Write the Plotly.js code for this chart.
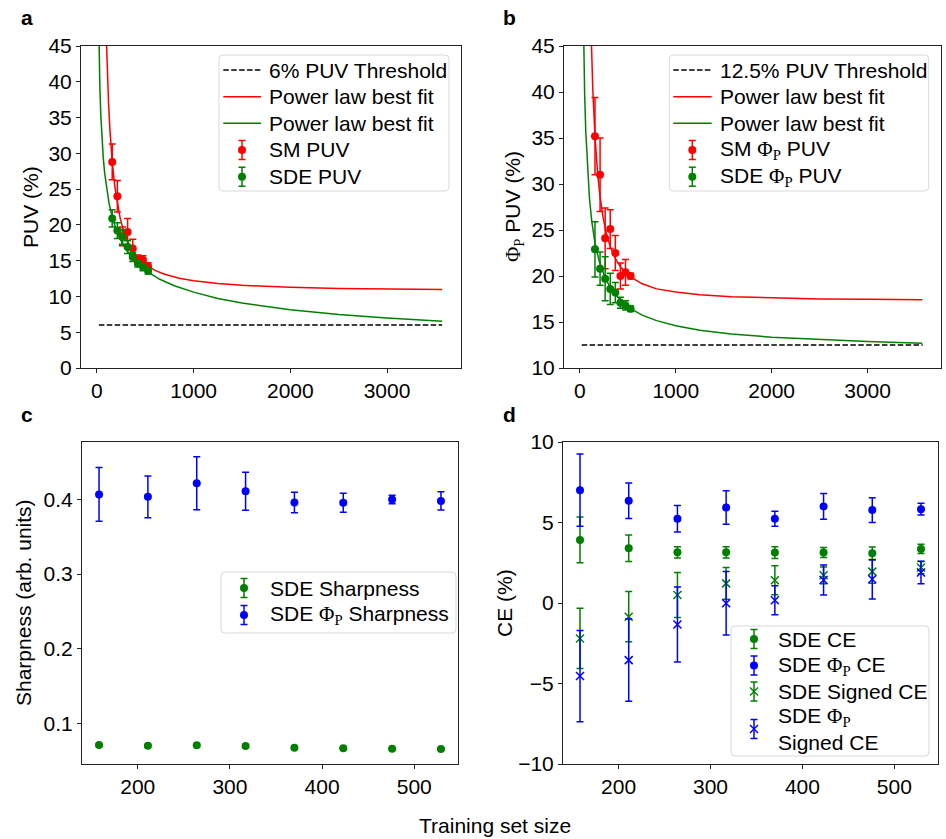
<!DOCTYPE html>
<html>
<head>
<meta charset="utf-8">
<script src="https://cdn.plot.ly/plotly-3.0.1.min.js"></script>
<style>html,body{margin:0;padding:0;background:#fff;}#chart{width:946px;height:839px;}</style>
</head>
<body>
<div id="chart"></div>
<script>
// ---- data ----
const trainSize = [158, 211, 264, 317, 370, 423, 476, 529];

// panel a
const smPUV = [28.8, 24.0, 18.4, 19.0, 16.7, 15.2, 15.1, 14.2];
const smPUVErr = [2.5, 2.2, 1.3, 1.9, 1.3, 0.6, 0.6, 0.5];
const sdePUV = [20.9, 19.2, 18.3, 16.9, 15.5, 14.6, 14.1, 13.55];
const sdePUVErr = [1.2, 1.1, 1.0, 0.9, 0.6, 0.5, 0.5, 0.4];
const fitXa_sm = [95, 100, 110, 120, 135, 158, 185, 211, 240, 275, 317, 370, 423, 476, 529, 600, 700, 850, 1000, 1250, 1500, 2000, 2500, 3000, 3570];
const fitYa_sm = [46.9, 44.4, 40.3, 37.0, 33.1, 28.8, 25.3, 22.9, 20.95, 19.2, 17.7, 16.4, 15.45, 14.7, 14.2, 13.65, 13.1, 12.55, 12.2, 11.8, 11.55, 11.27, 11.12, 11.03, 10.96];
const fitXa_sde = [15, 18, 20, 25, 30, 40, 50, 65, 80, 100, 125, 158, 200, 260, 330, 420, 529, 650, 800, 1000, 1250, 1500, 2000, 2500, 3000, 3570];
const fitYa_sde = [51.0, 47.6, 45.8, 42.1, 39.3, 35.3, 32.5, 29.4, 27.2, 25.0, 23.0, 21.1, 19.3, 17.5, 16.0, 14.6, 13.4, 12.4, 11.5, 10.6, 9.7, 9.07, 8.14, 7.49, 7.0, 6.55];
const threshXa = [20, 3570];
const threshYa = [6, 6];

// panel b
const smPhi = [35.2, 31.0, 24.1, 25.1, 22.5, 20.0, 20.4, 20.0];
const smPhiErr = [4.2, 4.0, 3.3, 2.1, 1.9, 1.4, 1.4, 0.3];
const sdePhi = [22.9, 20.8, 19.7, 18.6, 18.2, 17.1, 16.8, 16.45];
const sdePhiErr = [3.0, 1.8, 2.4, 1.7, 1.1, 0.6, 0.5, 0.3];
const fitXb_sm = [110, 120, 135, 158, 185, 211, 240, 275, 317, 370, 423, 476, 529, 650, 800, 1000, 1250, 1580, 2000, 2500, 3000, 3570];
const fitYb_sm = [49.3, 45.1, 40.3, 35.2, 31.2, 28.6, 26.5, 24.7, 23.2, 21.9, 21.0, 20.4, 19.9, 19.15, 18.6, 18.25, 17.95, 17.75, 17.6, 17.5, 17.46, 17.42];
const fitXb_sde = [30, 35, 40, 50, 62, 80, 100, 125, 158, 200, 260, 330, 420, 529, 650, 800, 1000, 1250, 1580, 2000, 2500, 3000, 3570];
const fitYb_sde = [52.9, 48.4, 45.0, 39.9, 35.7, 31.5, 28.5, 25.9, 23.6, 21.7, 19.9, 18.5, 17.4, 16.45, 15.75, 15.15, 14.6, 14.1, 13.7, 13.35, 13.07, 12.87, 12.7];
const threshXb = [20, 3575];
const threshYb = [12.5, 12.5];

// panel c
const sharpSDE = [0.0709, 0.0700, 0.0705, 0.0696, 0.0674, 0.0665, 0.0660, 0.0656];
const sharpSDEErr = [0.0015, 0.0015, 0.0015, 0.0012, 0.001, 0.001, 0.001, 0.001];
const sharpPhi = [0.4067, 0.4035, 0.4218, 0.4110, 0.3960, 0.3955, 0.4000, 0.3980];
const sharpPhiErr = [0.036, 0.028, 0.0355, 0.0254, 0.0137, 0.0127, 0.0058, 0.0122];

// panel d
const ceSDE = [3.92, 3.40, 3.15, 3.15, 3.13, 3.13, 3.09, 3.36];
const ceSDEErr = [1.42, 0.83, 0.35, 0.35, 0.36, 0.31, 0.39, 0.29];
const cePhi = [7.01, 6.35, 5.23, 5.93, 5.23, 6.00, 5.77, 5.83];
const cePhiErr = [2.25, 1.10, 0.82, 1.04, 0.47, 0.80, 0.77, 0.37];
const sceSDE = [-2.2, -0.85, 0.5, 1.22, 1.41, 1.72, 1.95, 2.2];
const sceSDEErr = [1.87, 1.56, 1.4, 0.98, 0.9, 0.52, 0.73, 0.38];
const scePhi = [-4.54, -3.55, -1.33, -0.02, 0.17, 1.43, 1.47, 1.9];
const scePhiErr = [2.83, 2.55, 2.33, 1.97, 0.9, 0.93, 1.22, 0.7];

// legend labels
const PHI = '<span style="font-family:\'Liberation Serif\', serif">Φ<sub>P</sub></span>';
const legendA = ['6% PUV Threshold', 'Power law best fit', 'Power law best fit', 'SM PUV', 'SDE PUV'];
const legendB = ['12.5% PUV Threshold', 'Power law best fit', 'Power law best fit', 'SM ' + PHI + ' PUV', 'SDE ' + PHI + ' PUV'];
const legendC = ['SDE Sharpness', 'SDE ' + PHI + ' Sharpness'];
const legendD = ['SDE CE', 'SDE ' + PHI + ' CE', 'SDE Signed CE', 'SDE ' + PHI + '<br>Signed CE'];

// ---- styling ----
const W = 946, H = 839;
const px = v => v / W, py = v => 1 - v / H;
const FONT = 'Liberation Sans, Arial, sans-serif';
const FS = 21;
const RED = '#ff0000', GREEN = '#008000', BLUE = '#0000ff';
const DASH = '5.5px,2.4px';

function pts(x, y, err, color, name, xa, ya, sym) {
  return {
    type: 'scatter', mode: 'markers', x: x, y: y, name: name, showlegend: false,
    xaxis: xa, yaxis: ya,
    marker: {color: color, size: 8, symbol: sym || 'circle', line: sym ? {color: color, width: 1.5} : {width: 0}},
    error_y: {type: 'data', array: err, visible: true, color: color, thickness: 1.5, width: 3.5}
  };
}
function line(x, y, color, name, xa, ya, dash) {
  return {
    type: 'scatter', mode: 'lines', x: x, y: y, name: name, showlegend: false,
    xaxis: xa, yaxis: ya,
    line: {color: color, width: 1.5, dash: dash || 'solid'}
  };
}

const traces = [
  line(threshXa, threshYa, '#000', legendA[0], 'x', 'y', DASH),
  line(fitXa_sm, fitYa_sm, RED, legendA[1], 'x', 'y'),
  line(fitXa_sde, fitYa_sde, GREEN, legendA[2], 'x', 'y'),
  pts(trainSize, smPUV, smPUVErr, RED, legendA[3], 'x', 'y'),
  pts(trainSize, sdePUV, sdePUVErr, GREEN, legendA[4], 'x', 'y'),

  line(threshXb, threshYb, '#000', legendB[0], 'x2', 'y2', DASH),
  line(fitXb_sm, fitYb_sm, RED, legendB[1], 'x2', 'y2'),
  line(fitXb_sde, fitYb_sde, GREEN, legendB[2], 'x2', 'y2'),
  pts(trainSize, smPhi, smPhiErr, RED, legendB[3], 'x2', 'y2'),
  pts(trainSize, sdePhi, sdePhiErr, GREEN, legendB[4], 'x2', 'y2'),

  pts(trainSize, sharpSDE, sharpSDEErr, GREEN, legendC[0], 'x3', 'y3'),
  pts(trainSize, sharpPhi, sharpPhiErr, BLUE, legendC[1], 'x3', 'y3'),

  pts(trainSize, ceSDE, ceSDEErr, GREEN, legendD[0], 'x4', 'y4'),
  pts(trainSize, cePhi, cePhiErr, BLUE, legendD[1], 'x4', 'y4'),
  pts(trainSize, sceSDE, sceSDEErr, GREEN, legendD[2], 'x4', 'y4', 'x-thin'),
  pts(trainSize, scePhi, scePhiErr, BLUE, legendD[3], 'x4', 'y4', 'x-thin')
];

function axis(domain, range, anchor, dtick, tick0) {
  return {
    domain: domain, range: range, anchor: anchor,
    showline: true, mirror: true, linecolor: '#222', linewidth: 1,
    ticks: 'outside', ticklen: 4, tickcolor: '#222', tickwidth: 1,
    showgrid: false, zeroline: false, dtick: dtick, tick0: tick0,
    tickfont: {family: FONT, size: FS, color: '#000'}, automargin: false
  };
}
function ann(text, x, y, opts) {
  return Object.assign({
    text: text, x: px(x), y: py(y), xref: 'paper', yref: 'paper', showarrow: false,
    xanchor: 'center', yanchor: 'middle', font: {family: FONT, size: FS, color: '#000'}
  }, opts || {});
}

// ---- hand-built matplotlib-style legends (text + handles) ----
const shapes = [];
const annotations = [];
function roundRect(l, t, r, b, rad) {
  const rx = rad / W, ry = rad / H;
  const L = px(l), R = px(r), T = py(t), B = py(b);
  return 'M ' + (L + rx) + ' ' + T + ' L ' + (R - rx) + ' ' + T + ' Q ' + R + ' ' + T + ' ' + R + ' ' + (T - ry) +
    ' L ' + R + ' ' + (B + ry) + ' Q ' + R + ' ' + B + ' ' + (R - rx) + ' ' + B +
    ' L ' + (L + rx) + ' ' + B + ' Q ' + L + ' ' + B + ' ' + L + ' ' + (B + ry) +
    ' L ' + L + ' ' + (T - ry) + ' Q ' + L + ' ' + T + ' ' + (L + rx) + ' ' + T + ' Z';
}
function pline(x0, y0, x1, y1, color, width, dash) {
  shapes.push({type: 'line', xref: 'paper', yref: 'paper', x0: px(x0), y0: py(y0), x1: px(x1), y1: py(y1),
    line: {color: color, width: width, dash: dash || 'solid'}});
}
function handle(kind, color, hx0, hx1, cx, cy) {
  if (kind === 'line' || kind === 'dash') {
    pline(hx0, cy, hx1, cy, color, 1.5, kind === 'dash' ? DASH : 'solid');
  } else {
    pline(cx, cy - 9.5, cx, cy + 9.5, color, 1.5);
    pline(cx - 3.5, cy - 9.5, cx + 3.5, cy - 9.5, color, 1.5);
    pline(cx - 3.5, cy + 9.5, cx + 3.5, cy + 9.5, color, 1.5);
    if (kind === 'x') {
      pline(cx - 4, cy - 4, cx + 4, cy + 4, color, 1.5);
      pline(cx - 4, cy + 4, cx + 4, cy - 4, color, 1.5);
    } else {
      shapes.push({type: 'circle', xref: 'paper', yref: 'paper', xsizemode: 'pixel', ysizemode: 'pixel',
        xanchor: px(cx), yanchor: py(cy), x0: -4, x1: 4, y0: -4, y1: 4,
        fillcolor: color, line: {width: 0}});
    }
  }
}
function legendBox(box, hx0, hx1, cx, tx, items) {
  shapes.push({type: 'path', xref: 'paper', yref: 'paper', path: roundRect(box[0], box[1], box[2], box[3], 4),
    fillcolor: 'rgba(255,255,255,0.85)', line: {color: '#d9d9d9', width: 1}, layer: 'above'});
  items.forEach(it => {
    if (it.kind) handle(it.kind, it.color, hx0, hx1, cx, it.y);
    if (it.text) annotations.push(ann(it.text, tx, it.y, {xanchor: 'left', align: 'left'}));
  });
}

legendBox([219, 55, 449, 191], 223.3, 261, 242, 266.7, [
  {kind: 'dash', color: '#000', text: legendA[0], y: 70},
  {kind: 'line', color: RED, text: legendA[1], y: 96.7},
  {kind: 'line', color: GREEN, text: legendA[2], y: 123.3},
  {kind: 'o', color: RED, text: legendA[3], y: 150},
  {kind: 'o', color: GREEN, text: legendA[4], y: 176.7}
]);
legendBox([669.3, 55, 928.7, 191], 673.3, 711.7, 692.3, 718.3, [
  {kind: 'dash', color: '#000', text: legendB[0], y: 70},
  {kind: 'line', color: RED, text: legendB[1], y: 96.7},
  {kind: 'line', color: GREEN, text: legendB[2], y: 123.3},
  {kind: 'o', color: RED, text: legendB[3], y: 150},
  {kind: 'o', color: GREEN, text: legendB[4], y: 176.7}
]);
legendBox([221, 572, 456, 633], 0, 0, 244, 268, [
  {kind: 'o', color: GREEN, text: legendC[0], y: 588},
  {kind: 'o', color: BLUE, text: legendC[1], y: 615}
]);
legendBox([731, 626, 929, 756], 0, 0, 754, 776, [
  {kind: 'o', color: GREEN, text: legendD[0], y: 639},
  {kind: 'o', color: BLUE, text: legendD[1], y: 665.5},
  {kind: 'x', color: GREEN, text: legendD[2], y: 691.5},
  {kind: 'x', color: BLUE, text: legendD[3], y: 729}
]);

const xRange = [-165, 3765];
const boldFont = {family: FONT, size: 21, color: '#000'};
annotations.push(
  ann('<b>a</b>', 27, 18, {font: boldFont}),
  ann('<b>b</b>', 509, 18, {font: boldFont}),
  ann('<b>c</b>', 27, 415, {font: boldFont}),
  ann('<b>d</b>', 509, 415, {font: boldFont}),
  ann('PUV (%)', 30, 207, {textangle: -90}),
  ann(PHI + ' PUV (%)', 514, 207, {textangle: -90}),
  ann('Sharpness (arb. units)', 23, 603, {textangle: -90}),
  ann('CE (%)', 504, 603, {textangle: -90}),
  ann('Training set size', 495, 825)
);

const layout = {
  width: W, height: H,
  margin: {l: 0, r: 0, t: 0, b: 0},
  paper_bgcolor: '#fff', plot_bgcolor: '#fff',
  font: {family: FONT, size: FS, color: '#000'},
  showlegend: false,
  xaxis: axis([px(81), px(461)], xRange, 'y', 1000, 0),
  yaxis: axis([py(368), py(46)], [0, 45], 'x', 5, 0),
  xaxis2: axis([px(564), px(941)], xRange, 'y2', 1000, 0),
  yaxis2: axis([py(368), py(46)], [10, 45], 'x2', 5, 0),
  xaxis3: axis([px(82), px(458)], [139.5, 547.5], 'y3', 100, 0),
  yaxis3: axis([py(764), py(442)], [0.0455, 0.477], 'x3', 0.1, 0),
  xaxis4: axis([px(563), px(938)], [139.5, 547.5], 'y4', 100, 0),
  yaxis4: axis([py(764), py(442)], [-10, 10], 'x4', 5, 0),
  shapes: shapes,
  annotations: annotations
};

Plotly.newPlot('chart', traces, layout, {displayModeBar: false, staticPlot: true});
</script>
</body>
</html>
